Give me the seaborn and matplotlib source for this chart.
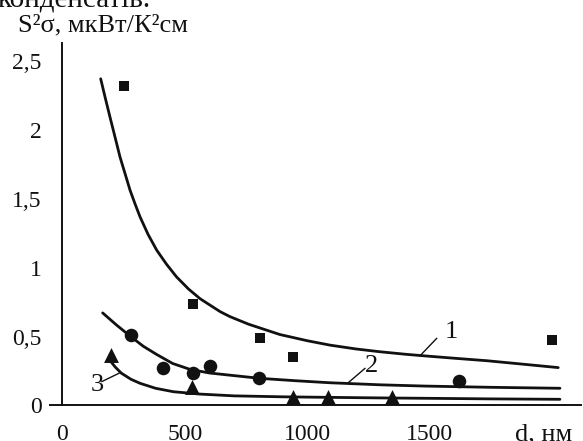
import matplotlib
matplotlib.use("Agg")
import matplotlib.pyplot as plt
import seaborn as sns
import pandas as pd

# ---- data ----
sq_x = [252, 532, 807, 940, 1998]
sq_y = [2.315, 0.735, 0.491, 0.349, 0.475]
ci_x = [279, 412, 532, 602, 804, 1620]
ci_y = [0.511, 0.27, 0.238, 0.288, 0.197, 0.18]
tr_x = [197, 528, 943, 1083, 1347]
tr_y = [0.366, 0.132, 0.065, 0.065, 0.065]

c1_x = [156, 175, 194, 215, 235, 256, 276, 297, 317, 350, 385, 425, 466, 515,
        562, 644, 684, 760, 888, 1000, 1093, 1200, 1297, 1400, 1480, 1600,
        1733, 1880, 2025]
c1_y = [2.371, 2.23, 2.093, 1.945, 1.803, 1.68, 1.562, 1.46, 1.368, 1.24,
        1.127, 1.025, 0.933, 0.845, 0.775, 0.681, 0.645, 0.59, 0.515, 0.47,
        0.438, 0.41, 0.39, 0.372, 0.36, 0.343, 0.325, 0.30, 0.275]
c2_x = [164, 220, 276, 330, 385, 450, 521, 600, 684, 807, 950, 1093, 1300,
        1480, 1750, 2032]
c2_y = [0.672, 0.585, 0.504, 0.43, 0.37, 0.305, 0.262, 0.236, 0.22, 0.197,
        0.18, 0.165, 0.15, 0.141, 0.132, 0.125]
c3_x = [187, 215, 240, 280, 317, 380, 453, 560, 700, 900, 1093, 1300, 1501,
        1750, 2032]
c3_y = [0.342, 0.28, 0.235, 0.19, 0.161, 0.125, 0.10, 0.083, 0.07, 0.063,
        0.059, 0.055, 0.052, 0.048, 0.045]

curve_labels = ["1", "2", "3"]
label_pos = [(1587, 0.53), (1262, 0.288), (140, 0.149)]
leader_from = [(1460, 0.36), (1167, 0.165), (160, 0.173)]
leader_to = [(1529, 0.488), (1236, 0.27), (232, 0.235)]

x_ticks = [0, 500, 1000, 1500, 2000]
x_tick_labels = ["0", "500", "1000", "1500", ""]
y_ticks = [0, 0.5, 1, 1.5, 2, 2.5]
y_tick_labels = ["0", "0,5", "1", "1,5", "2", "2,5"]

y_title = "S\u00b2\u03c3, мкВт/К\u00b2см"
x_title = "d, нм"
caption = "конденсатів."

# ---- styling ----
sns.set_style("white")
plt.rcParams["font.family"] = ["Liberation Serif", "DejaVu Serif"]
ink = "#111111"
fs = 17
fs_big = 19

fig = plt.figure(figsize=(5.83, 4.41), dpi=100)
ax = fig.add_axes([0.0862, 0.0805, 0.9112, 0.8218])

for cx, cy in [(c1_x, c1_y), (c2_x, c2_y), (c3_x, c3_y)]:
    df = pd.DataFrame({"x": cx, "y": cy})
    sns.lineplot(data=df, x="x", y="y", ax=ax, color=ink, linewidth=2.0,
                 sort=False, estimator=None)

sns.scatterplot(x=sq_x, y=sq_y, ax=ax, marker="s", s=60, color=ink,
                edgecolor=ink, linewidth=0, zorder=5)
sns.scatterplot(x=ci_x, y=ci_y, ax=ax, marker="o", s=95, color=ink,
                edgecolor=ink, linewidth=0, zorder=5)
sns.scatterplot(x=tr_x, y=tr_y, ax=ax, marker="^", s=115, color=ink,
                edgecolor=ink, linewidth=0, zorder=5)

for lab, pos, a, b in zip(curve_labels, label_pos, leader_from, leader_to):
    ax.plot([a[0], b[0]], [a[1], b[1]], color=ink, linewidth=1.0)
    ax.text(pos[0], pos[1], lab, fontsize=fs_big, ha="center", va="center",
            color=ink)

ax.set_xlim(-50, 2120)
ax.set_ylim(0, 2.63)
ax.set_xticks(x_ticks)
ax.set_xticklabels(x_tick_labels)
ax.set_yticks(y_ticks)
ax.set_yticklabels(y_tick_labels)
ax.set_xlabel("")
ax.set_ylabel("")

for s in ["top", "right"]:
    ax.spines[s].set_visible(False)
ax.spines["left"].set_position(("data", 0))
for s in ["left", "bottom"]:
    ax.spines[s].set_linewidth(1.4)
    ax.spines[s].set_color(ink)

ax.tick_params(axis="y", direction="out", length=7, width=1.3, pad=8,
               labelsize=fs, colors=ink)
ax.tick_params(axis="x", direction="out", length=5, width=1.3, pad=8,
               labelsize=fs, colors=ink)

ax.annotate(x_title, xy=(1967, 0), xycoords=("data", "axes fraction"),
            xytext=(0, -13), textcoords="offset points", ha="center", va="top",
            fontsize=fs_big, color=ink)

fig.text(18 / 583, 1 - 31 / 441, y_title, fontsize=fs_big, ha="left",
         va="baseline", color=ink)
fig.text(-0.004, 1 - 6 / 441, caption, fontsize=fs_big + 2, ha="left",
         va="baseline", color=ink)

fig.savefig("out.png", dpi=100)
